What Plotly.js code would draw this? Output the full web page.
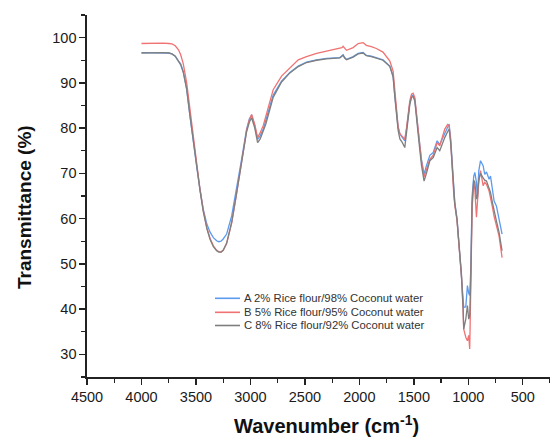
<!DOCTYPE html>
<html>
<head>
<meta charset="utf-8">
<script src="https://cdn.plot.ly/plotly-3.0.1.min.js"></script>
<style>html,body{margin:0;padding:0;background:#fff;}#chart{width:550px;height:439px;}</style>
</head>
<body>
<div id="chart"></div>
<script>
const wavenumber = [4000,3900,3800,3750,3720,3690,3660,3640,3616,3585,3555,3525,3494,3463,3433,3400,3370,3340,3310,3290,3270,3250,3218,3172,3127,3081,3035,3010,2989,2960,2934,2910,2882,2860,2837,2791,2714,2638,2561,2485,2393,2301,2179,2160,2149,2135,2118,2057,2011,1966,1936,1890,1844,1783,1720,1690,1674,1659,1644,1628,1605,1583,1567,1552,1537,1521,1507,1491,1476,1451,1430,1406,1384,1353,1322,1286,1262,1240,1216,1190,1176,1161,1145,1133,1124,1103,1094,1078,1063,1048,1042,1023,1008,996,987,977,965,950,940,925,916,904,888,864,849,833,809,796,778,763,742,718,690];

const seriesA = [96.7,96.7,96.7,96.6,96.4,95.9,94.8,94.2,92.5,88.6,82.7,76.8,71.7,66.5,62.1,58.8,57.0,55.8,55.1,54.9,55.0,55.5,56.6,60.6,66.5,73.1,79.8,82.0,82.9,80.5,77.5,78.3,79.8,81.5,83.4,87.3,90.4,92.3,93.7,94.6,95.1,95.4,95.6,95.9,96.2,95.6,95.2,95.8,96.5,96.7,96.1,95.9,95.6,95.1,93.7,91.5,87.1,83.5,80.1,78.7,78.0,77.2,79.8,83.4,85.5,87.1,87.3,86.4,82.7,77.5,73.1,69.8,71.7,74.0,74.6,77.2,76.4,77.5,78.7,80.0,80.9,77.5,70.2,65.8,63.6,59.9,57.0,52.5,48.1,43.7,40.4,40.5,45.2,43.5,43.0,48.9,65.0,69.4,70.2,68.0,64.3,70.5,72.8,71.7,69.8,70.3,68.7,69.4,66.5,63.9,62.8,59.9,56.6];

const seriesB = [98.7,98.8,98.8,98.7,98.6,98.2,97.3,96.2,94.2,90.0,84.2,77.8,72.0,66.5,61.8,58.0,55.6,54.0,53.0,52.7,52.6,53.0,54.5,59.0,65.5,72.5,79.5,81.8,83.0,80.8,77.9,79.0,80.6,82.5,84.6,88.5,91.5,93.4,95.1,95.8,96.5,97.0,97.6,97.8,98.1,97.6,97.2,97.8,98.7,98.9,98.3,98.0,97.6,96.8,94.8,92.6,88.0,84.0,80.3,78.8,78.2,77.5,80.0,83.8,86.0,87.5,87.7,86.8,83.0,77.5,72.8,69.2,71.0,73.1,74.0,76.8,76.1,77.8,79.8,80.8,80.5,77.0,69.5,65.2,63.0,59.5,56.5,52.0,47.5,40.0,35.6,33.8,33.0,34.2,31.2,45.0,62.1,68.0,66.5,60.3,64.0,68.0,70.6,67.3,68.0,67.6,66.1,64.8,62.5,60.5,58.4,56.2,51.4];

const seriesC = [96.6,96.7,96.7,96.6,96.4,95.9,94.8,94.0,92.3,88.6,82.8,77.0,71.6,66.3,61.6,57.8,55.4,53.8,52.9,52.6,52.6,53.0,54.6,59.2,65.6,72.4,79.2,81.3,82.3,80.0,76.8,77.6,79.2,80.8,82.8,86.8,90.2,92.2,93.6,94.5,95.0,95.3,95.5,95.8,96.1,95.5,95.1,95.7,96.4,96.6,96.0,95.8,95.5,95.0,93.6,91.3,86.8,83.0,79.5,77.6,76.8,75.7,78.8,82.8,85.2,86.8,87.0,86.0,82.0,76.5,71.8,68.3,70.0,72.8,73.5,75.7,75.0,76.5,77.9,79.2,79.8,76.5,69.8,65.5,63.3,59.7,56.8,52.3,47.8,40.5,35.6,37.8,40.8,37.8,38.5,47.0,63.5,68.5,68.0,64.3,65.0,68.5,70.0,69.0,68.5,68.3,66.8,65.8,63.5,61.5,59.5,57.0,52.9];

const seriesNames = ["A 2% Rice flour/98% Coconut water","B 5% Rice flour/95% Coconut water","C 8% Rice flour/92% Coconut water"];
const seriesValues = [seriesA, seriesB, seriesC];
const seriesColors = ["#5b9bef", "#f07272", "#7f7f7f"];
const xTitle = "Wavenumber (cm<sup>-1</sup>)";
const yTitle = "Transmittance (%)";

const traces = seriesValues.map((v, i) => ({
  x: wavenumber, y: v, type: "scatter", mode: "lines", name: seriesNames[i],
  line: {color: seriesColors[i], width: 1.3}, showlegend: false
}));

const FONT = "Arial, 'Liberation Sans', sans-serif";

// compact legend (annotations + short line shapes)
const legX0 = 0.2765, legX1 = 0.3305, legTextX = 0.3348;
const legY = [0.2174, 0.1787, 0.1423];
const shapes = seriesNames.map((n, i) => ({
  type: "line", xref: "paper", yref: "paper", x0: legX0, x1: legX1, y0: legY[i], y1: legY[i],
  line: {color: seriesColors[i], width: 1.6}
}));
const annotations = seriesNames.map((n, i) => ({
  xref: "paper", yref: "paper", x: legTextX, y: legY[i], xanchor: "left", yanchor: "middle",
  text: n, showarrow: false, font: {family: FONT, size: 11.3, color: "#333"}
}));
// axis titles placed as annotations for exact positioning
annotations.push({
  xref: "paper", yref: "paper", x: 0.517, y: -0.132, xanchor: "center", yanchor: "middle",
  text: "<b>" + xTitle + "</b>", showarrow: false, font: {family: FONT, size: 20, color: "#111"}
});
annotations.push({
  xref: "paper", yref: "paper", x: -0.136, y: 0.4696, xanchor: "center", yanchor: "middle",
  textangle: -90, text: "<b>" + yTitle + "</b>", showarrow: false, font: {family: FONT, size: 19, color: "#111"}
});

const layout = {
  width: 550, height: 439,
  margin: {l: 87, r: 0, t: 15, b: 62},
  paper_bgcolor: "#fff", plot_bgcolor: "#fff",
  font: {family: FONT, color: "#222"},
  xaxis: {
    range: [4500, 250], tick0: 0, dtick: 500, showgrid: false, zeroline: false,
    showline: true, linecolor: "#222", linewidth: 1.6,
    ticks: "outside", ticklen: 6, tickwidth: 1.4, tickcolor: "#222",
    minor: {dtick: 250, tick0: 0, ticks: "outside", ticklen: 4, tickwidth: 1.2, tickcolor: "#222", showgrid: false},
    tickfont: {size: 14.5, color: "#1a1a1a"}
  },
  yaxis: {
    range: [25, 105], tick0: 0, dtick: 10, showgrid: false, zeroline: false,
    showline: true, linecolor: "#222", linewidth: 1.6,
    ticks: "outside", ticklen: 6, tickwidth: 1.4, tickcolor: "#222",
    minor: {dtick: 5, tick0: 0, ticks: "outside", ticklen: 4, tickwidth: 1.2, tickcolor: "#222", showgrid: false},
    tickfont: {size: 14.5, color: "#1a1a1a"}
  },
  shapes: shapes,
  annotations: annotations
};

Plotly.newPlot("chart", traces, layout, {staticPlot: true, displayModeBar: false});
</script>
</body>
</html>
